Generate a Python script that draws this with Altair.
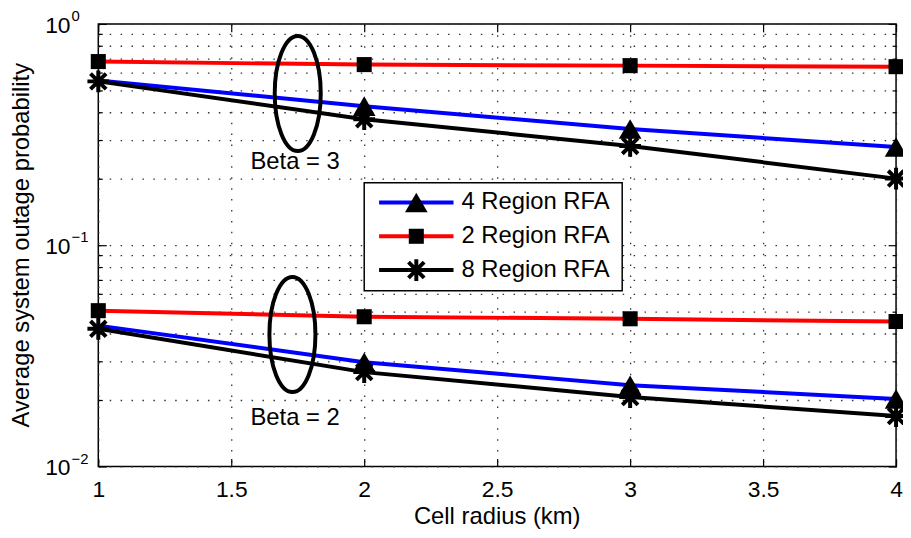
import altair as alt
import pandas as pd

# ---------------- data ----------------
radius = [1, 2, 3, 4]
series = ["4 Region RFA", "2 Region RFA", "8 Region RFA"]
colors = ["#0000ff", "#ff0000", "#000000"]

beta3_4 = [0.555, 0.425, 0.335, 0.278]
beta3_2 = [0.676, 0.655, 0.648, 0.641]
beta3_8 = [0.550, 0.371, 0.281, 0.200]

beta2_4 = [0.0433, 0.0296, 0.0233, 0.0202]
beta2_2 = [0.0506, 0.0475, 0.0465, 0.0452]
beta2_8 = [0.0419, 0.0267, 0.0206, 0.0169]

# the triangle markers are not visible at radius 1 (hidden under the asterisks)
marker_from = [2, 1, 1]

x_ticks = [1, 1.5, 2, 2.5, 3, 3.5, 4]
y_ticks = [0.01, 0.02, 0.03, 0.04, 0.05, 0.06, 0.07, 0.08, 0.09,
           0.1, 0.2, 0.3, 0.4, 0.5, 0.6, 0.7, 0.8, 0.9, 1.0]
decades = [0.01, 0.1, 1.0]
exponents = ["\u22122", "\u22121", "0"]

ellipse_x = [1.75, 1.73]
ellipse_y = [0.485, 0.0395]
beta_x = [1.74, 1.74]
beta_y = [0.238, 0.0166]
beta_labels = ["Beta = 3", "Beta = 2"]

x_title = "Cell radius (km)"
y_title = "Average system outage probability"

FONT = "Liberation Sans"

rows = []
for beta, vals in [("3", [beta3_4, beta3_2, beta3_8]), ("2", [beta2_4, beta2_2, beta2_8])]:
    for s, v in zip(series, vals):
        for x, y in zip(radius, v):
            rows.append({"series": s, "beta": beta, "x": x, "y": y})
df = pd.DataFrame(rows)

xs = alt.Scale(domain=[1, 4], nice=False, zero=False)
ys = alt.Scale(type="log", domain=[0.01, 1], nice=False)

minor_test = "abs(log(datum.value)/LN10 - round(log(datum.value)/LN10)) > 0.001"

axis_bottom = alt.Axis(orient="bottom", values=x_ticks, format="~g", title=None,
                       domain=False, tickSize=alt.ExprRef(expr="-8"), tickColor="black",
                       tickWidth=1.2, labelFont=FONT, labelFontSize=23, labelColor="black",
                       labelPadding=20, labelFlush=False, labelOverlap=False, labelBound=False,
                       grid=True, gridDash=[1.5, 9.5], gridColor="#333333", gridWidth=1.3)
axis_left = alt.Axis(orient="left", values=y_ticks, title=None, labels=False,
                     domain=False, tickSize=alt.ExprRef(expr="-8"), tickColor="black",
                     tickWidth=1.2,
                     tickDash={"condition": {"test": minor_test, "value": [4, 40]}, "value": []},
                     grid=True, gridDash=[1.5, 9.5], gridColor="#333333", gridWidth=1.3)
axis_top = alt.Axis(orient="top", values=x_ticks, title=None, labels=False, domain=False,
                    grid=False, tickSize=alt.ExprRef(expr="-8"), tickColor="black", tickWidth=1.2)
axis_right = alt.Axis(orient="right", values=y_ticks, title=None, labels=False, domain=False,
                      grid=False, tickSize=alt.ExprRef(expr="-8"), tickColor="black", tickWidth=1.2,
                      tickDash={"condition": {"test": minor_test, "value": [4, 40]}, "value": []})

base = alt.Chart(df)
layers = []

# hidden layer carrying top/right axes
layers.append(base.mark_point(opacity=0).encode(
    x=alt.X("x:Q", scale=xs, axis=axis_top),
    y=alt.Y("y:Q", scale=ys, axis=axis_right)))

marker_props = [
    dict(shape="triangle-up", size=520, filled=True, color="black"),
    dict(shape="square", size=230, filled=True, color="black"),
    dict(shape="M0,-1L0,1M-1,0L1,0M-0.72,-0.72L0.72,0.72M-0.72,0.72L0.72,-0.72",
         size=480, filled=False, color="black", strokeWidth=4),
]

for i, s in enumerate(series):
    first = i == 0
    line = base.transform_filter(alt.datum.series == s).mark_line(
        color=colors[i], strokeWidth=4).encode(
        x=alt.X("x:Q", scale=xs, axis=axis_bottom if first else None),
        y=alt.Y("y:Q", scale=ys, axis=axis_left if first else None),
        detail="beta:N")
    pts = base.transform_filter(
        (alt.datum.series == s) & (alt.datum.x >= marker_from[i])).mark_point(
        opacity=1, **marker_props[i]).encode(
        x=alt.X("x:Q", scale=xs, axis=None),
        y=alt.Y("y:Q", scale=ys, axis=None))
    layers += [line, pts]

# ellipses
ell_df = pd.DataFrame({"x": ellipse_x, "y": ellipse_y})
k = 0.2209
a = 0.4
ell_path = (f"M0,-1C{k},-1 {a},-0.5523 {a},0C{a},0.5523 {k},1 0,1"
            f"C-{k},1 -{a},0.5523 -{a},0C-{a},-0.5523 -{k},-1 0,-1Z")
layers.append(alt.Chart(ell_df).mark_point(shape=ell_path, size=116 * 116, filled=False,
                                           color="black", strokeWidth=4, opacity=1).encode(
    x=alt.X("x:Q", scale=xs, axis=None), y=alt.Y("y:Q", scale=ys, axis=None)))

# Beta labels
beta_df = pd.DataFrame({"x": beta_x, "y": beta_y, "t": beta_labels})
layers.append(alt.Chart(beta_df).mark_text(font=FONT, fontSize=24, color="black",
                                           align="center", baseline="middle").encode(
    x=alt.X("x:Q", scale=xs, axis=None), y=alt.Y("y:Q", scale=ys, axis=None), text="t:N"))

# y tick labels (10 with superscript exponent)
dec_df = pd.DataFrame({"y": decades, "e": exponents, "b": ["10"] * 3})
layers.append(alt.Chart(dec_df).mark_text(font=FONT, fontSize=23, color="black",
                                          align="right", baseline="middle", dy=2).encode(
    x=alt.value(-28), y=alt.Y("y:Q", scale=ys, axis=None), text="b:N"))
layers.append(alt.Chart(dec_df).mark_text(font=FONT, fontSize=15, color="black",
                                          align="left", baseline="middle", dy=-8).encode(
    x=alt.value(-27), y=alt.Y("y:Q", scale=ys, axis=None), text="e:N"))

one = pd.DataFrame({"a": [0]})
# axis titles
layers.append(alt.Chart(one).mark_text(text=x_title, font=FONT, fontSize=24, color="black",
                                       align="center", baseline="middle").encode(
    x=alt.value(402), y=alt.value(497)))
layers.append(alt.Chart(one).mark_text(text=y_title, font=FONT, fontSize=24, color="black",
                                       align="center", baseline="alphabetic", angle=270).encode(
    x=alt.value(-70), y=alt.value(223)))

# legend
layers.append(alt.Chart(one).mark_rect(fill="white", stroke="black", strokeWidth=1.5).encode(
    x=alt.value(268), x2=alt.value(528), y=alt.value(160), y2=alt.value(269)))
for i, s in enumerate(series):
    ry = 180 + 34 * i
    layers.append(alt.Chart(one).mark_rule(color=colors[i], strokeWidth=4).encode(
        x=alt.value(283), x2=alt.value(358), y=alt.value(ry)))
    layers.append(alt.Chart(one).mark_point(opacity=1, **marker_props[i]).encode(
        x=alt.value(320.5), y=alt.value(ry)))
    layers.append(alt.Chart(one).mark_text(text=s, font=FONT, fontSize=24, color="black",
                                           align="left", baseline="middle").encode(
        x=alt.value(366), y=alt.value(ry)))

chart = alt.layer(*layers).properties(
    width=804, height=446,
    autosize=alt.AutoSizeParams(type="none"),
    padding={"left": 91, "top": 14, "right": 7, "bottom": 68},
    background="white",
).configure_view(stroke="black", strokeWidth=1.5)

chart.save("out.html", embed_options={"renderer": "svg", "actions": False})
